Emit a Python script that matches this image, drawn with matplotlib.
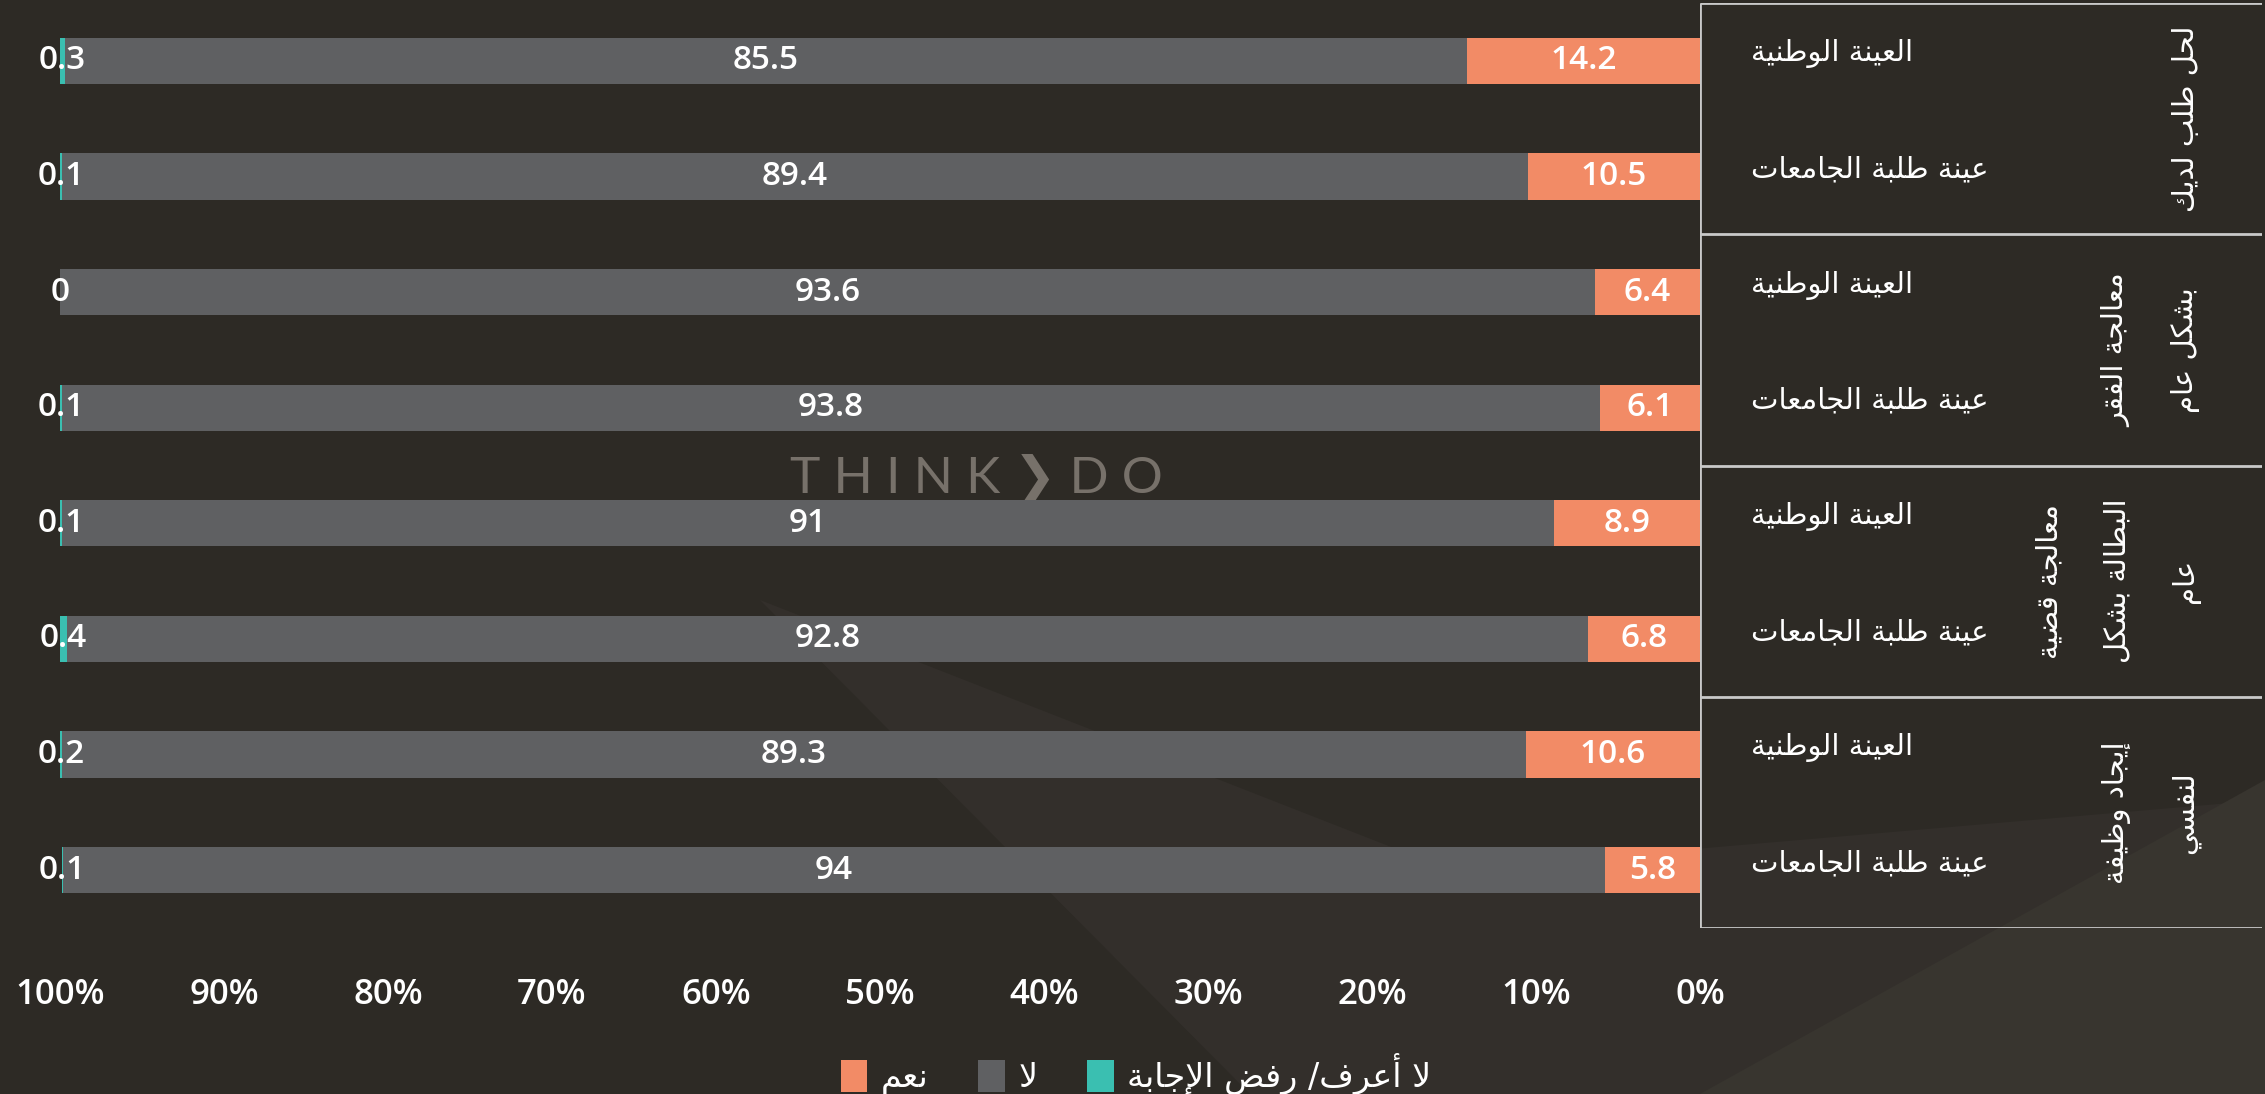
import matplotlib
matplotlib.use('Agg')
import matplotlib.pyplot as plt
from matplotlib.patches import Patch, Polygon
import numpy as np

# ---- data ----
GROUPS = ['لحل طلب لديك',
          'معالجة الفقر\nبشكل عام',
          'معالجة قضية\nالبطالة بشكل\nعام',
          'إيجاد وظيفة\nلنفسي']
SAMPLES = ['العينة الوطنية', 'عينة طلبة الجامعات']
YES = [14.2, 10.5, 6.4, 6.1, 8.9, 6.8, 10.6, 5.8]
NO = [85.5, 89.4, 93.6, 93.8, 91, 92.8, 89.3, 94]
DK = [0.3, 0.1, 0, 0.1, 0.1, 0.4, 0.2, 0.1]
SERIES = ['نعم', 'لا', 'لا أعرف/ رفض الإجابة']
XTICKS = [0, 10, 20, 30, 40, 50, 60, 70, 80, 90, 100]

COL_YES = '#F28B66'
COL_NO = '#5F6062'
COL_DK = '#3ABFB1'
BG = '#2D2A25'

# ---- minimal arabic shaping (matplotlib has no bidi / joining) ----
_order = [('\u0621', 1), ('\u0622', 2), ('\u0623', 2), ('\u0624', 2), ('\u0625', 2),
          ('\u0626', 4), ('\u0627', 2), ('\u0628', 4), ('\u0629', 2), ('\u062A', 4),
          ('\u062B', 4), ('\u062C', 4), ('\u062D', 4), ('\u062E', 4), ('\u062F', 2),
          ('\u0630', 2), ('\u0631', 2), ('\u0632', 2), ('\u0633', 4), ('\u0634', 4),
          ('\u0635', 4), ('\u0636', 4), ('\u0637', 4), ('\u0638', 4), ('\u0639', 4),
          ('\u063A', 4), ('\u0641', 4), ('\u0642', 4), ('\u0643', 4), ('\u0644', 4),
          ('\u0645', 4), ('\u0646', 4), ('\u0647', 4), ('\u0648', 2), ('\u0649', 2),
          ('\u064A', 4)]
FORMS = {}
_cp = 0xFE80
for ch, k in _order:
    FORMS[ch] = (_cp, k)
    _cp += k
LAM_ALEF = {'\u0622': 0xFEF5, '\u0623': 0xFEF7, '\u0625': 0xFEF9, '\u0627': 0xFEFB}


def shape_line(text):
    out = []
    i, n = 0, len(text)
    while i < n:
        c = text[i]
        if c not in FORMS:
            out.append(c)
            i += 1
            continue
        prev = text[i - 1] if i > 0 else ''
        conn_prev = prev in FORMS and FORMS[prev][1] == 4
        if c == '\u0644' and i + 1 < n and text[i + 1] in LAM_ALEF:
            out.append(chr(LAM_ALEF[text[i + 1]] + (1 if conn_prev else 0)))
            i += 2
            continue
        nxt = text[i + 1] if i + 1 < n else ''
        base, k = FORMS[c]
        conn_next = k == 4 and nxt in FORMS
        if k == 1:
            f = 0
        elif conn_prev and conn_next:
            f = 3
        elif conn_prev:
            f = 1
        elif conn_next:
            f = 2
        else:
            f = 0
        out.append(chr(base + f))
        i += 1
    return ''.join(reversed(out))


def ar(text):
    return '\n'.join(shape_line(l) for l in text.split('\n'))


AR_FONT = ['DejaVu Sans']
NUM_FONT = ['Open Sans', 'DejaVu Sans']

# ---- figure ----
W, H = 2265, 1094
fig = plt.figure(figsize=(W / 100, H / 100), dpi=100, facecolor=BG)

# subtle background shapes
fig.patches.append(Polygon([(760 / W, 1 - 600 / H), (1450 / W, 1 - 870 / H), (2265 / W, 1 - 800 / H),
                            (2265 / W, 0), (1250 / W, 0)], closed=True,
                           transform=fig.transFigure, facecolor='#332F2B', edgecolor='none', zorder=-5))
fig.patches.append(Polygon([(1700 / W, 0), (2265 / W, 1 - 780 / H), (2265 / W, 0)], closed=True,
                           transform=fig.transFigure, facecolor='#38352F', edgecolor='none', zorder=-4))

left, right = 60 / W, 1700 / W
bottom, top = 1 - 928 / H, 1 - 3 / H
ax = fig.add_axes([left, bottom, right - left, top - bottom])
ax.set_facecolor('none')

y = np.arange(len(YES))
yes = np.array(YES)
no = np.array(NO)
dk = np.array(DK)

b1 = ax.barh(y, yes, left=0, height=0.4, color=COL_YES, zorder=2)
b2 = ax.barh(y, no, left=yes, height=0.4, color=COL_NO, zorder=2)
b3 = ax.barh(y, dk, left=yes + no, height=0.4, color=COL_DK, zorder=2)

for cont, vals in [(b1, YES), (b2, NO), (b3, DK)]:
    ax.bar_label(cont, labels=[f'{v:g}' for v in vals], label_type='center',
                 color='white', fontsize=24, fontweight='semibold', family=NUM_FONT, zorder=5)

ax.set_xlim(100, 0)
ax.set_ylim(len(YES) - 0.5, -0.5)
ax.set_xticks(XTICKS)
ax.set_xticklabels([f'{t}%' for t in XTICKS], color='white', fontsize=25,
                   fontweight='semibold', family=NUM_FONT)
ax.tick_params(axis='x', length=0, pad=36)
ax.set_yticks([])
for s in ax.spines.values():
    s.set_visible(False)

# watermark (sits behind the bars)
ax.text(0.5585, 0.47, 'T H I N K \u276F D O', transform=ax.transAxes, ha='center', va='baseline',
        fontsize=37, color='#77716A', family=['Lato', 'DejaVu Sans'], zorder=0.5)

# ---- table of category labels on the right ----
tx0, tx1 = 1700 / W, 2262 / W
tw = tx1 * W - 1700
axt = fig.add_axes([tx0, bottom, tx1 - tx0, top - bottom])
axt.set_xlim(0, 1)
axt.set_ylim(len(YES) - 0.5, -0.5)
axt.axis('off')
line_kw = dict(color='#C9C9C9', lw=2, solid_capstyle='butt')
axt.plot([0, 0], [-0.5, len(YES) - 0.5], **line_kw)
for g in range(len(GROUPS) + 1):
    yy = g * 2 - 0.5
    axt.plot([0, 1], [yy, yy], **line_kw)

for i in range(len(YES)):
    axt.text((1751 - 1700) / tw, i - 0.06, ar(SAMPLES[i % 2]), ha='left', va='center',
             color='white', fontsize=21, family=AR_FONT)

for g, name in enumerate(GROUPS):
    axt.text((2200 - 1700) / tw, g * 2 + 0.5, ar(name), rotation=90,
             ha='right', va='center', multialignment='center', linespacing=2.8,
             color='white', fontsize=21, family=AR_FONT)

# ---- legend ----
handles = [Patch(facecolor=COL_YES), Patch(facecolor=COL_NO), Patch(facecolor=COL_DK)]
leg = fig.legend(handles, [ar(s) for s in SERIES], loc='center', ncol=3,
                 bbox_to_anchor=(1136 / W, 1 - 1074 / H), frameon=False,
                 handlelength=0.8, handleheight=1.1, handletextpad=0.4, columnspacing=1.5,
                 prop={'family': AR_FONT, 'size': 24})
for t in leg.get_texts():
    t.set_color('white')

fig.savefig('out.png', dpi=100, facecolor=BG)
